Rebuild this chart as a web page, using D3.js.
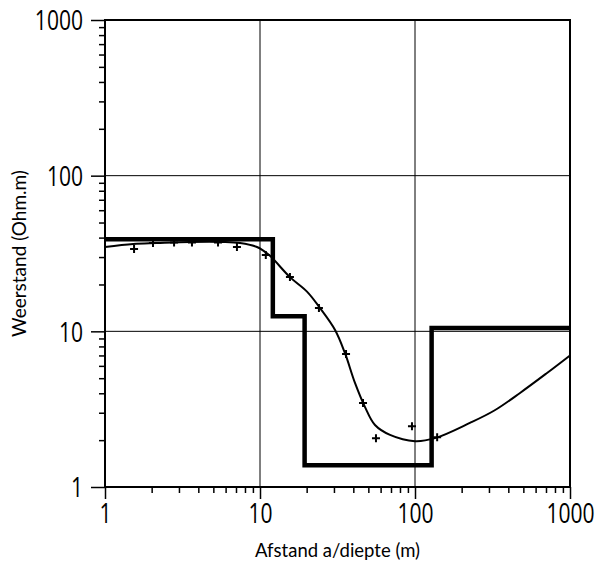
<!DOCTYPE html>
<html>
<head>
<meta charset="utf-8">
<script src="https://cdn.jsdelivr.net/npm/d3@7"></script>
<style>
  body { margin: 0; background: #fff; }
  svg text { font-family: Lato, "Noto Sans", sans-serif; fill: #000; }
  svg .tick text { font-family: "Open Sans", Lato, sans-serif; font-weight: 400; }
</style>
</head>
<body>
<svg id="chart" width="600" height="568"></svg>
<script>
// gemeten punten (afstand, weerstand)
const meetAfstand = [1.54, 2.04, 2.79, 3.64, 5.36, 7.1, 10.9, 15.6, 24.0, 35.9, 46.2, 56.0, 95.6, 139]
const meetWeerstand = [33.8, 36.9, 37.2, 37.2, 37.2, 34.8, 30.9, 22.3, 14.1, 7.15, 3.46, 2.06, 2.46, 2.09]

// berekende curve
const curveAfstand = [1, 1.52, 2.16, 3.53, 5.77, 7.43, 9.56, 11.4, 15.6, 20.1, 24.4, 30.5, 35.3, 41.0, 47.6, 55.2, 69.0, 100, 134.6, 226, 325, 476, 711, 1000]
const curveWeerstand = [34.8, 36.4, 36.9, 37.5, 37.5, 36.9, 34.8, 31.0, 22.3, 18.0, 14.1, 10.2, 7.26, 4.66, 3.26, 2.50, 2.16, 1.97, 2.06, 2.58, 3.10, 4.02, 5.40, 7.0]

// laagmodel: diepte van de laaggrenzen en soortelijke weerstand per laag
const laagDiepte = [1, 12.1, 19.4, 128, 1000]
const laagWeerstand = [39, 12.5, 1.38, 10.5]

const decades = [1, 10, 100, 1000]

const margin = { left: 105, right: 30, top: 20, bottom: 81 }
const width = 600
const height = 568
const squeeze = 0.78

const svg = d3.select('#chart')

const x = d3.scaleLog().domain([1, 1000]).range([margin.left, width - margin.right])
const y = d3.scaleLog().domain([1, 1000]).range([height - margin.bottom, margin.top])

// alle tick waarden: 1..9 per decade
const allTicks = []
decades.forEach((d) => {
  if (d === 1000) { allTicks.push(d); return }
  for (let i = 1; i < 10; i++) allTicks.push(d * i)
})
const isMajor = (v) => decades.includes(v)

// rasterlijnen
const grid = svg.append('g')
grid.selectAll('line.v')
  .data([10, 100])
  .enter()
  .append('line')
  .attr('x1', (d) => x(d)).attr('x2', (d) => x(d))
  .attr('y1', y(1)).attr('y2', y(1000))
  .attr('stroke', '#000').attr('stroke-width', 1)
grid.selectAll('line.h')
  .data([10, 100])
  .enter()
  .append('line')
  .attr('y1', (d) => y(d)).attr('y2', (d) => y(d))
  .attr('x1', x(1)).attr('x2', x(1000))
  .attr('stroke', '#000').attr('stroke-width', 1)

// assen
const xAxis = svg.append('g')
  .attr('transform', `translate(0,${y(1)})`)
  .call(d3.axisBottom(x).tickValues(allTicks).tickSizeOuter(0).tickFormat((d) => (isMajor(d) ? d : '')))
xAxis.select('.domain').remove()
xAxis.selectAll('.tick line')
  .attr('y2', (d) => (isMajor(d) ? 12 : 6))
  .attr('stroke-width', 1.5)
xAxis.selectAll('.tick text')
  .attr('y', 17)
  .attr('font-size', 27)
  .attr('fill', '#000')
  .attr('transform', `scale(${squeeze},1)`)

const yAxis = svg.append('g')
  .attr('transform', `translate(${x(1)},0)`)
  .call(d3.axisLeft(y).tickValues(allTicks).tickSizeOuter(0).tickFormat((d) => (isMajor(d) ? d : '')))
yAxis.select('.domain').remove()
yAxis.selectAll('.tick line')
  .attr('x2', (d) => (isMajor(d) ? -14 : -6))
  .attr('stroke-width', 1.5)
yAxis.selectAll('.tick text')
  .attr('x', -22 / squeeze)
  .attr('dy', '0.36em')
  .attr('font-size', 27)
  .attr('fill', '#000')
  .attr('transform', `scale(${squeeze},1)`)

// kader
svg.append('rect')
  .attr('x', x(1)).attr('y', y(1000))
  .attr('width', x(1000) - x(1)).attr('height', y(1) - y(1000))
  .attr('fill', 'none').attr('stroke', '#000').attr('stroke-width', 2)

// laagmodel als trapfunctie
const stepPts = []
laagWeerstand.forEach((r, i) => {
  stepPts.push([laagDiepte[i], r])
  stepPts.push([laagDiepte[i + 1], r])
})
svg.append('path')
  .datum(stepPts)
  .attr('fill', 'none')
  .attr('stroke', '#000')
  .attr('stroke-width', 4.5)
  .attr('stroke-linejoin', 'miter')
  .attr('d', d3.line().x((d) => x(d[0])).y((d) => y(d[1])))

// berekende curve
svg.append('path')
  .datum(curveAfstand.map((a, i) => [a, curveWeerstand[i]]))
  .attr('fill', 'none')
  .attr('stroke', '#000')
  .attr('stroke-width', 2)
  .attr('d', d3.line().curve(d3.curveCatmullRom.alpha(0.5)).x((d) => x(d[0])).y((d) => y(d[1])))

// meetpunten als kruisjes
const s = 4
svg.append('g')
  .selectAll('path')
  .data(meetAfstand.map((a, i) => [a, meetWeerstand[i]]))
  .enter()
  .append('path')
  .attr('d', (d) => {
    const cx = x(d[0])
    const cy = y(d[1])
    return `M${cx - s},${cy}H${cx + s}M${cx},${cy - s}V${cy + s}`
  })
  .attr('stroke', '#000')
  .attr('stroke-width', 2)

// astitels
svg.append('text')
  .attr('x', (x(1) + x(1000)) / 2)
  .attr('y', 557)
  .attr('text-anchor', 'middle')
  .attr('font-size', 18.5)
  .text('Afstand a/diepte (m)')

svg.append('text')
  .attr('transform', `translate(26,${(y(1) + y(1000)) / 2}) rotate(-90)`)
  .attr('text-anchor', 'middle')
  .attr('font-size', 19)
  .text('Weerstand (Ohm.m)')
</script>
</body>
</html>
